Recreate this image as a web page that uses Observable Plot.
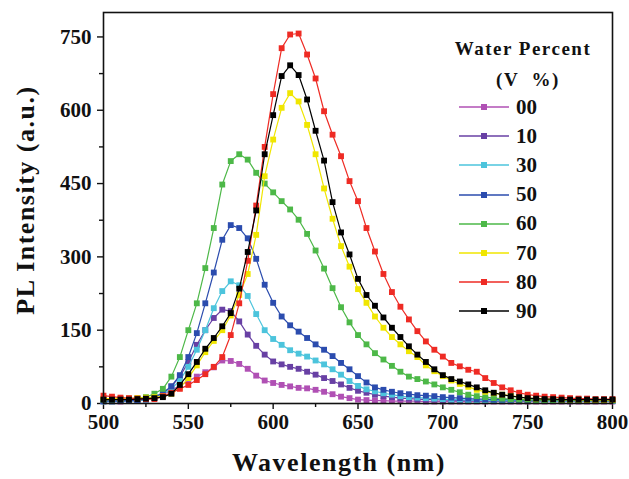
<!DOCTYPE html>
<html>
<head>
<meta charset="utf-8">
<script src="https://cdn.jsdelivr.net/npm/d3@7"></script>
<script src="https://cdn.jsdelivr.net/npm/@observablehq/plot@0.6"></script>
<style>
  html, body { margin: 0; padding: 0; background: #fff; }
  #wrap { position: relative; width: 629px; height: 479px; overflow: hidden; font-family: "Liberation Serif", "DejaVu Serif", serif; font-weight: bold; color: #111; }
  #wrap svg.plot { position: absolute; left: 0; top: 0; }
  .ytitle { position: absolute; left: 26px; top: 200px; transform: translate(-50%, -50%) rotate(-90deg); white-space: nowrap; font-size: 26px; letter-spacing: 1.5px; line-height: 1; }
  .xtitle { position: absolute; left: 339px; top: 450px; transform: translateX(-50%); white-space: nowrap; font-size: 26px; letter-spacing: 1.5px; line-height: 1; }
  .lgtitle { position: absolute; white-space: nowrap; font-size: 19px; letter-spacing: 1.5px; line-height: 1; transform: translate(-50%, -50%); }
  .lgrow { position: absolute; left: 459px; height: 20px; display: flex; align-items: center; }
  .lgrow span { font-size: 21px; margin-left: 7px; line-height: 1; }
</style>
</head>
<body>
<div id="wrap"></div>
<script>
// ---- data ----
const wavelengths = [500,505,510,515,520,525,530,535,540,545,550,555,560,565,570,575,580,585,590,595,600,605,610,615,620,625,630,635,640,645,650,655,660,665,670,675,680,685,690,695,700,705,710,715,720,725,730,735,740,745,750,755,760,765,770,775,780,785,790,795,800];

const seriesNames = ["00","10","30","50","60","70","80","90"];
const seriesColors = ["#b050b4","#6840a4","#4cc4dc","#2b4cae","#4db848","#f0e600","#ee2b24","#000000"];

const s00 = [4,4,4,5,6,8,12,18,27,37, 46,55,64,74,88,87,81,71,57,47, 42,38,35,32,31,28,24,19,14,11, 8,7,6,6,5,5,5,5,4,4, 4,4,4,4,4,4,4,4,4,4, 4,4,4,4,4,4,4,4,4,4, 4];
const s10 = [5,5,5,5,6,8,12,20,35,55, 85,120,150,175,192,189,168,141,118,100, 86,80,75,71,65,59,52,46,39,32, 26,22,18,15,13,11,10,9,8,8, 7,7,6,6,6,5,5,5,5,5, 5,5,5,5,5,5,5,5,5,5, 5];
const s30 = [4,4,5,5,6,8,12,19,30,47, 75,110,150,195,230,250,242,220,183,150, 132,120,109,102,96,88,80,70,59,46, 36,29,25,21,18,15,13,12,11,10, 9,8,8,7,7,6,6,6,6,6, 6,6,5,5,5,5,5,5,5,5, 5];
const s50 = [5,5,5,6,7,9,13,22,35,58, 95,144,205,268,335,365,359,338,296,243, 206,178,160,147,134,121,110,97,83,70, 56,43,33,28,24,21,19,17,16,15, 13,12,11,10,9,9,8,8,8,7, 7,7,7,7,6,6,6,6,6,6, 6];
const s60 = [8,8,9,10,11,13,20,30,55,95, 150,205,277,359,448,496,510,499,472,450, 432,414,397,376,347,313,276,236,197,166, 140,121,103,90,77,65,55,50,45,39, 33,28,23,18,15,13,11,10,9,8, 8,7,7,7,7,6,6,6,6,6, 6];
const s70 = [10,10,10,10,11,12,13,15,20,32, 52,78,105,128,150,180,222,265,345,465, 540,605,635,618,570,510,440,378,322,280, 234,206,178,155,136,121,107,95,78,66, 56,47,40,34,28,24,21,18,16,13, 11,10,9,9,8,8,8,7,7,7, 7];
const s80 = [16,14,12,11,10,9,9,15,22,30, 38,48,60,75,95,140,205,292,405,525, 633,727,755,757,714,665,598,550,506,455, 414,359,311,265,228,198,172,148,127,110, 96,83,76,69,65,52,42,33,27,22, 18,16,14,13,12,11,10,10,9,9, 9];
const s90 = [8,8,8,8,9,10,11,13,20,38, 60,85,112,134,158,185,235,310,395,510, 590,670,692,672,622,558,497,412,350,305, 255,222,200,176,155,136,117,100,85,70, 58,50,45,39,33,27,22,18,15,13, 11,10,9,9,8,8,8,8,8,8, 8];

const xTicks = [500,550,600,650,700,750,800];
const xMinor = [525,575,625,675,725,775];
const yTicks = [0,150,300,450,600,750];
const yMinor = [75,225,375,525,675];

const seriesValues = [s00,s10,s30,s50,s60,s70,s80,s90];

// ---- build table ----
const tables = seriesNames.map((name, k) =>
  wavelengths.map((w, i) => ({w, v: seriesValues[k][i], s: name}))
);

const plot = Plot.plot({
  width: 629,
  height: 479,
  marginLeft: 103,
  marginRight: 17,
  marginTop: 12,
  marginBottom: 76,
  style: {fontFamily: "'Liberation Serif', serif", fontWeight: "bold", fontSize: "21px", color: "#111", background: "transparent"},
  x: {domain: [500, 800], label: null},
  y: {domain: [0, 800], label: null},
  color: {domain: seriesNames, range: seriesColors},
  marks: [
    Plot.axisX({ticks: xTicks, tickSize: 6, tickPadding: 5, strokeWidth: 1.4, label: null, tickFormat: d => String(d)}),
    Plot.axisX({ticks: xMinor, tickSize: 4, strokeWidth: 1.4, label: null, tickFormat: () => ""}),
    Plot.axisY({ticks: yTicks, tickSize: 6, tickPadding: 6, strokeWidth: 1.4, label: null, tickFormat: d => String(d)}),
    Plot.axisY({ticks: yMinor, tickSize: 4, strokeWidth: 1.4, label: null, tickFormat: () => ""}),
    ...tables.flatMap(t => [
      Plot.line(t, {x: "w", y: "v", stroke: "s", strokeWidth: 1.2}),
      Plot.dot(t, {x: "w", y: "v", fill: "s", symbol: "square", r: 3.3})
    ]),
    Plot.frame({stroke: "#111", strokeWidth: 1.6})
  ]
});

const wrap = document.getElementById("wrap");
plot.classList.add("plot");
wrap.appendChild(plot);

const yt = document.createElement("div");
yt.className = "ytitle";
yt.textContent = "PL Intensity (a.u.)";
wrap.appendChild(yt);

const xt = document.createElement("div");
xt.className = "xtitle";
xt.textContent = "Wavelength (nm)";
wrap.appendChild(xt);

// legend
const lt1 = document.createElement("div");
lt1.className = "lgtitle";
lt1.style.left = "523px"; lt1.style.top = "48px";
lt1.textContent = "Water Percent";
wrap.appendChild(lt1);
const lt2 = document.createElement("div");
lt2.className = "lgtitle";
lt2.style.left = "528px"; lt2.style.top = "79px";
lt2.innerHTML = "(V&nbsp; %)";
wrap.appendChild(lt2);

seriesNames.forEach((name, i) => {
  const row = document.createElement("div");
  row.className = "lgrow";
  row.style.top = (107 + i * 29.2 - 10) + "px";
  const ns = "http://www.w3.org/2000/svg";
  const sw = document.createElementNS(ns, "svg");
  sw.setAttribute("width", 50); sw.setAttribute("height", 10);
  const ln = document.createElementNS(ns, "line");
  ln.setAttribute("x1", 0); ln.setAttribute("x2", 50); ln.setAttribute("y1", 5); ln.setAttribute("y2", 5);
  ln.setAttribute("stroke", seriesColors[i]); ln.setAttribute("stroke-width", 1.4);
  const rc = document.createElementNS(ns, "rect");
  rc.setAttribute("x", 22); rc.setAttribute("y", 2); rc.setAttribute("width", 6); rc.setAttribute("height", 6);
  rc.setAttribute("fill", seriesColors[i]);
  sw.appendChild(ln); sw.appendChild(rc);
  const lab = document.createElement("span");
  lab.textContent = name;
  row.appendChild(sw); row.appendChild(lab);
  wrap.appendChild(row);
});
</script>
</body>
</html>
